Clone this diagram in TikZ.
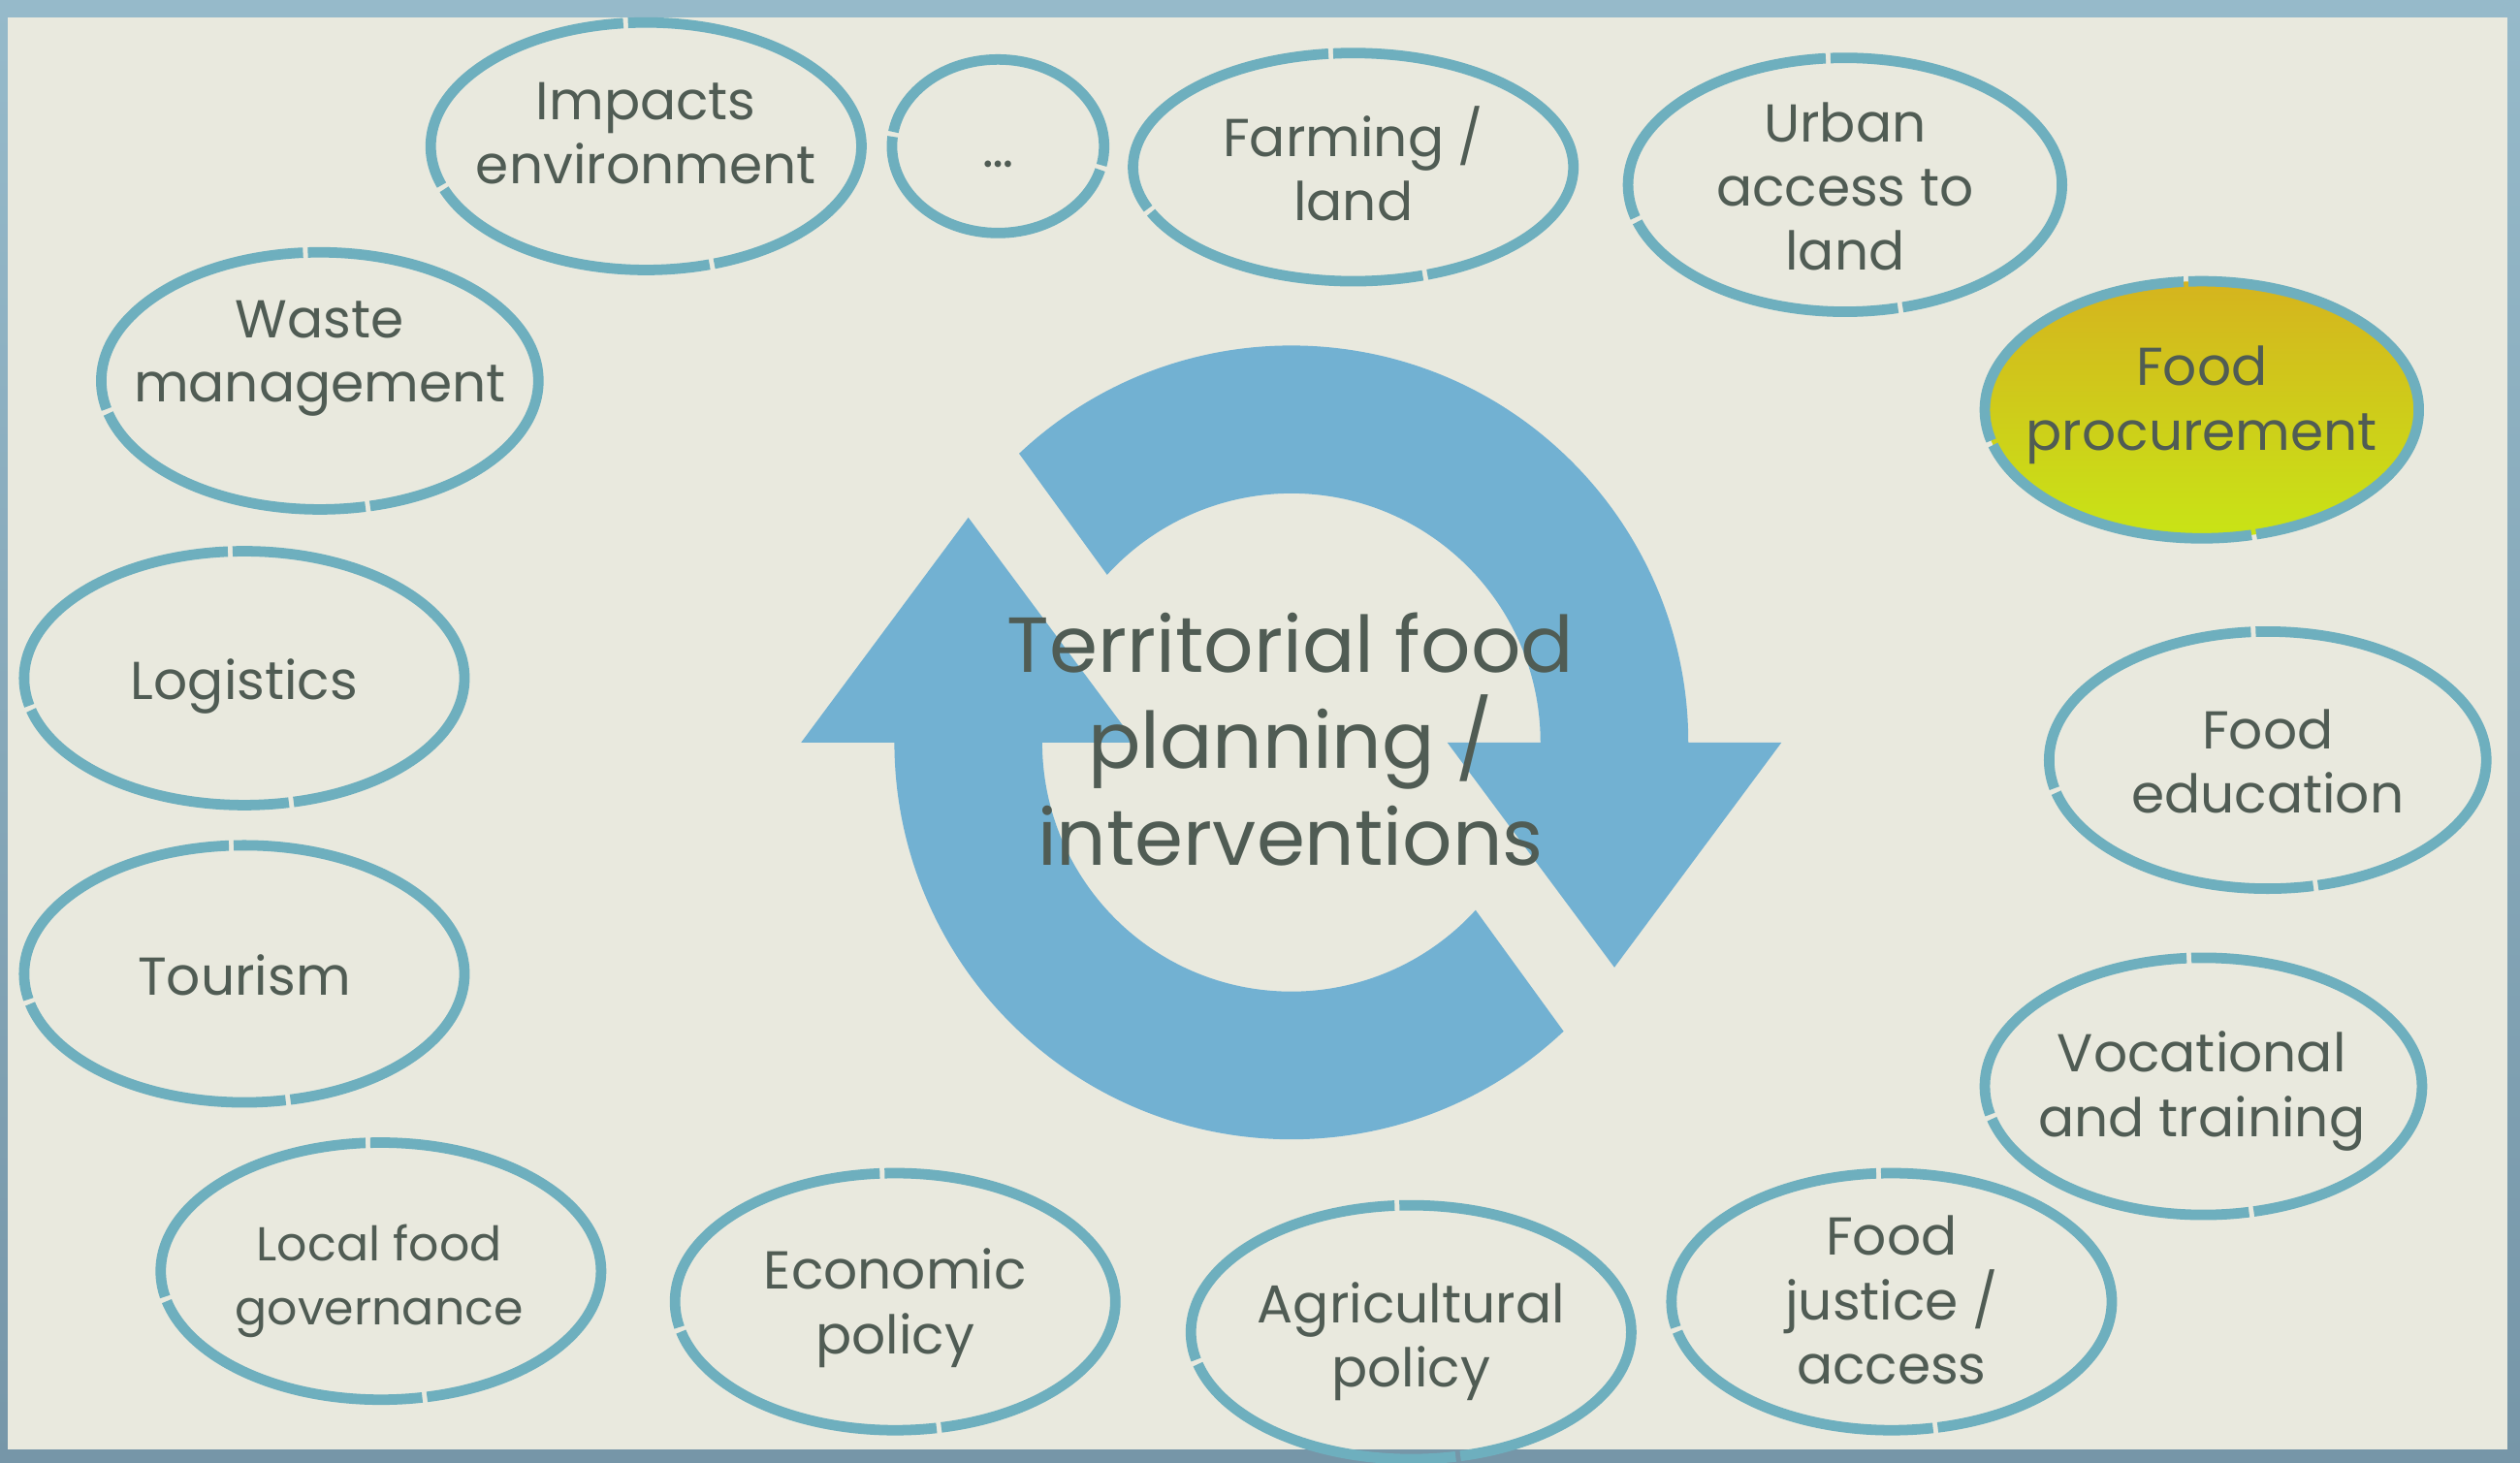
\documentclass[tikz,border=0pt]{standalone}
\usepackage{fontspec}
\setmainfont{Poppins}
\usetikzlibrary{shapes.geometric}
\definecolor{bg}{RGB}{233,233,222}
\definecolor{frametop}{RGB}{150,186,202}
\definecolor{framebot}{RGB}{118,150,168}
\definecolor{ring}{RGB}{110,175,190}
\definecolor{arrowblue}{RGB}{114,177,210}
\definecolor{ink}{RGB}{80,92,84}
\definecolor{goldtop}{RGB}{213,180,30}
\definecolor{limebot}{RGB}{200,228,22}
\begin{document}
\begin{tikzpicture}[x=0.5pt,y=-0.5pt,
  bubble/.style={ellipse, draw=ring, line width=3.25pt, dash pattern=on 90pt off 1.5pt, inner sep=0pt},
  lbl/.style={text=ink, align=center, font=\fontsize{16.6}{20}\selectfont, inner sep=0pt},
  smalllbl/.style={lbl, font=\fontsize{14.8}{20}\selectfont},
  title/.style={text=ink, align=center, font=\fontsize{24.3}{30}\selectfont, inner sep=0pt}]
\useasboundingbox (0,0) rectangle (1568,909.8);
% frame and background
\shade[top color=frametop, bottom color=framebot] (0,0) rectangle (1568,909.8);
\fill[bg] (5,11) rectangle (1560,902);
% central circular arrows
\begin{scope}[shift={(803.5,462)}, yscale=-1]
  \fill[arrowblue] (133.3:247) arc[start angle=133.3, end angle=0, radius=247]
     -- (305,0) -- (201,-140) -- (97,0) -- (155,0)
     arc[start angle=0, end angle=137.7, radius=155] -- cycle;
  \fill[arrowblue] (-46.7:247) arc[start angle=-46.7, end angle=-180, radius=247]
     -- (-305,0) -- (-201,140) -- (-97,0) -- (-155,0)
     arc[start angle=180, end angle=317.7, radius=155] -- cycle;
\end{scope}
\node[title] (center) at (803,460) {Territorial food\\planning /\\interventions};
% bubbles
\node[bubble, minimum width=134pt, minimum height=77pt] (imp) at (402,91) {};
\node[lbl] (impt) at (402,83) {Impacts\\environment};
\node[bubble, minimum width=66pt, minimum height=54pt] (dots) at (621,91) {};
\node[lbl] (dotst) at (621,102) {…};
\node[bubble, minimum width=137pt, minimum height=71pt] (farm) at (842,104) {};
\node[lbl] (farmt) at (842,102) {Farming /\\land};
\node[bubble, minimum width=135pt, minimum height=79pt] (urban) at (1148,115) {};
\node[lbl] (urbant) at (1148,116) {Urban\\access to\\land};
\node[bubble, top color=goldtop, bottom color=limebot, minimum width=135pt, minimum height=80pt] (proc) at (1370,255) {};
\node[lbl] (proct) at (1370,252) {Food\\procurement};
\node[bubble, minimum width=136pt, minimum height=80pt] (waste) at (199,237) {};
\node[lbl] (wastet) at (199,223) {Waste\\management};
\node[bubble, minimum width=137pt, minimum height=79pt] (logi) at (152,422) {};
\node[lbl] (logit) at (152,427) {Logistics};
\node[bubble, minimum width=136pt, minimum height=80pt] (edu) at (1411,473) {};
\node[lbl] (edut) at (1411,474) {Food\\education};
\node[bubble, minimum width=137pt, minimum height=80pt] (tour) at (152,606) {};
\node[lbl] (tourt) at (152,607) {Tourism};
\node[bubble, minimum width=136pt, minimum height=80pt] (voc) at (1371,676) {};
\node[lbl] (voct) at (1370,679) {Vocational\\and training};
\node[bubble, minimum width=137pt, minimum height=80pt] (local) at (237,791) {};
\node[smalllbl] (localt) at (236,797) {Local food\\governance};
\node[bubble, minimum width=137pt, minimum height=80pt] (econ) at (557,810) {};
\node[lbl] (econt) at (557,814) {Economic\\policy};
\node[bubble, minimum width=137pt, minimum height=79pt] (agri) at (878,829) {};
\node[lbl] (agrit) at (878,835) {Agricultural\\policy};
\node[bubble, minimum width=137pt, minimum height=80pt] (just) at (1177,810) {};
\node[lbl] (justt) at (1177,809) {Food\\justice /\\access};
\end{tikzpicture}
\end{document}
